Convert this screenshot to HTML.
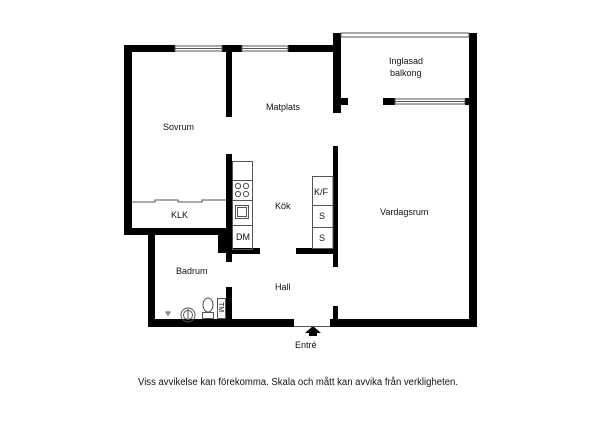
<!DOCTYPE html>
<html><head><meta charset="utf-8"><style>
html,body{margin:0;padding:0;background:#fff;width:600px;height:424px;overflow:hidden}
text{font-family:"Liberation Sans",sans-serif;font-size:9px;fill:#111}
</style></head><body>
<svg width="600" height="424" viewBox="0 0 600 424" xmlns="http://www.w3.org/2000/svg">
<g fill="#000">
<rect x="124" y="45" width="51" height="7"/>
<rect x="222" y="45" width="20" height="7"/>
<rect x="288" y="45" width="50" height="7"/>
<rect x="124" y="45" width="8" height="190"/>
<rect x="124" y="228" width="108" height="7"/>
<rect x="226" y="45" width="6" height="72"/>
<rect x="333" y="33" width="8" height="80"/>
<rect x="341" y="98" width="7" height="7"/>
<rect x="383" y="98" width="12" height="7"/>
<rect x="465" y="98" width="5" height="7"/>
<rect x="469" y="33" width="8" height="294"/>
<rect x="226" y="154" width="6" height="108"/>
<rect x="218" y="233" width="14" height="20"/>
<rect x="226" y="248" width="34" height="6"/>
<rect x="333" y="146" width="5" height="121"/>
<rect x="296" y="248" width="42" height="6"/>
<rect x="148" y="228" width="7" height="99"/>
<rect x="226" y="287" width="6" height="32"/>
<rect x="333" y="306" width="5" height="13"/>
<rect x="148" y="319" width="146" height="8"/>
<rect x="330" y="319" width="147" height="8"/>
<polygon points="305,333 313,326 321,333 317,333 317,336 309,336 309,333"/>
</g>
<g fill="none" stroke="#555" stroke-width="1">
<rect x="175" y="46" width="47" height="5"/>
<line x1="175" y1="48.5" x2="222" y2="48.5"/>
<rect x="242" y="46" width="46" height="5"/>
<line x1="242" y1="48.5" x2="288" y2="48.5"/>
<rect x="341" y="33" width="128" height="4"/>
<rect x="395" y="99" width="70" height="5"/>
<line x1="395" y1="101.5" x2="465" y2="101.5"/>
<line x1="294" y1="326.5" x2="330" y2="326.5"/>
<rect x="232.5" y="161.5" width="20" height="88"/>
<line x1="232" y1="180.5" x2="253" y2="180.5"/>
<line x1="232" y1="200.5" x2="253" y2="200.5"/>
<line x1="232" y1="225.5" x2="253" y2="225.5"/>
<circle cx="238" cy="186" r="2.6"/><circle cx="246" cy="186" r="2.6"/>
<circle cx="238" cy="194" r="2.6"/><circle cx="246" cy="194" r="2.6"/>
<rect x="235.5" y="205.5" width="13" height="13"/>
<rect x="237.5" y="207.5" width="9" height="9"/>
<rect x="312.5" y="176.5" width="20.5" height="72"/>
<line x1="312" y1="205.5" x2="333" y2="205.5"/>
<line x1="312" y1="227.5" x2="333" y2="227.5"/>
<polyline points="132,202 155,202 155,200 178,200 178,202 202,202 202,200 226,200"/>
<rect x="217.5" y="298.5" width="8" height="20"/>
<ellipse cx="208" cy="305" rx="5" ry="7"/>
<rect x="202.5" y="312.5" width="11" height="6"/>
<circle cx="188" cy="315" r="7"/>
<circle cx="188" cy="315" r="4.5"/>
<line x1="188" y1="309" x2="188" y2="319"/>
<polygon points="166,312 170,312 168,315"/>
</g>
<text x="163" y="130">Sovrum</text>
<text x="266" y="110">Matplats</text>
<text x="389" y="64">Inglasad</text>
<text x="390" y="76">balkong</text>
<text x="171" y="218">KLK</text>
<text x="275" y="209">Kök</text>
<text x="380" y="215">Vardagsrum</text>
<text x="176" y="274">Badrum</text>
<text x="275" y="290">Hall</text>
<text x="295" y="348">Entré</text>
<text x="314" y="195">K/F</text>
<text x="319" y="219">S</text>
<text x="319" y="241">S</text>
<text x="236" y="240">DM</text>
<text x="219" y="302" transform="rotate(90 219 302)" style="font-size:7px">TM</text>
<text x="138" y="385" textLength="320" lengthAdjust="spacingAndGlyphs" style="font-size:10px">Viss avvikelse kan förekomma. Skala och mått kan avvika från verkligheten.</text>
</svg>
</body></html>
